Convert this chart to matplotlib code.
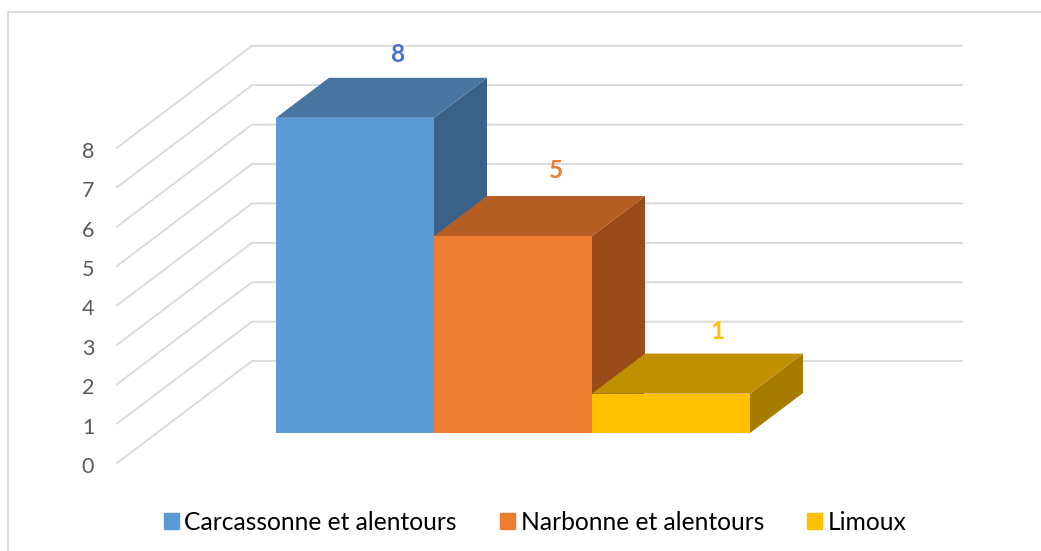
#!/usr/bin/env python3
"""Oblique 3D-look column chart, drawn with flat polygons."""

import matplotlib

matplotlib.use("Agg")
import matplotlib.patches as mpatches
import matplotlib.pyplot as plt

categories = ["Carcassonne et alentours", "Narbonne et alentours", "Limoux"]
values = [8, 5, 1]
ticks = [0, 1, 2, 3, 4, 5, 6, 7, 8]

FRONT = ["#5B9BD5", "#ED7D31", "#FFC000"]
TOP = ["#4875A0", "#B55E23", "#BF9000"]
SIDE = ["#3A6288", "#994C1A", "#A67C00"]
LABEL = ["#4472C4", "#ED7D31", "#FFC000"]
# label nudges in pixels from the back top edge of each column
LABEL_DX = [43, 43, 46]
LABEL_DY = [25, 28, 24]

WIDTH, HEIGHT = 1041, 551
X0, Y0 = 276, 433  # pixel of category 0 / value 0 on the bars' front plane
PX_CAT, PX_VAL = 158, 39.4

# depth offsets, in data units
BAR_DX, BAR_DY = 53 / PX_CAT, 40 / PX_VAL
WALL_LEFT = (117 - X0) / PX_CAT
WALL_FLOOR = (463 - Y0) / -PX_VAL  # axis foot sits below the bars' front plane
WALL_DX, WALL_DY = 135 / PX_CAT, 102 / PX_VAL
WALL_RIGHT = (962 - X0) / PX_CAT

plt.rcParams["font.family"] = ["Lato", "DejaVu Sans"]

fig = plt.figure(figsize=(WIDTH / 100, HEIGHT / 100), dpi=100)
ax = fig.add_axes([0, 0, 1, 1])
ax.set_xlim(-X0 / PX_CAT, (WIDTH - X0) / PX_CAT)
ax.set_ylim((Y0 - HEIGHT) / PX_VAL, Y0 / PX_VAL)
ax.axis("off")


def px(x, y):
    """Pixel position (top-left origin) to data coordinates."""
    return (x - X0) / PX_CAT, (Y0 - y) / PX_VAL


# chart frame: top and left edges only, the crop cuts the others
frame_x, frame_y = zip(px(8, HEIGHT), px(8, 12), px(WIDTH, 12))
ax.plot(frame_x, frame_y, color="#D9D9D9", lw=1.3, solid_joinstyle="miter", zorder=1)

# gridlines on the side wall and back wall
for t in ticks:
    y = WALL_FLOOR + t
    ax.plot(
        [WALL_LEFT, WALL_LEFT + WALL_DX, WALL_RIGHT],
        [y, y + WALL_DY, y + WALL_DY],
        color="#D9D9D9",
        lw=1.3,
        zorder=1,
    )
    ax.text(
        WALL_LEFT - 29 / PX_CAT,
        y - 2 / PX_VAL,
        str(t),
        ha="center",
        va="center_baseline",
        fontsize=15.5,
        color="#595959",
    )

# columns, left to right so each one overlaps the side of the previous
for i, v in enumerate(values):
    left, right = i, i + 1
    ax.add_patch(
        mpatches.Polygon(
            [(right, 0), (right + BAR_DX, BAR_DY), (right + BAR_DX, v + BAR_DY), (right, v)],
            facecolor=SIDE[i],
            edgecolor="none",
            zorder=2 + i,
        )
    )
    ax.add_patch(
        mpatches.Polygon(
            [(left, v), (right, v), (right + BAR_DX, v + BAR_DY), (left + BAR_DX, v + BAR_DY)],
            facecolor=TOP[i],
            edgecolor="none",
            zorder=2 + i,
        )
    )
    ax.add_patch(
        mpatches.Rectangle(
            (left, 0), 1, v, facecolor=FRONT[i], edgecolor="none", zorder=2 + i
        )
    )
    ax.text(
        i + 0.5 + LABEL_DX[i] / PX_CAT,
        v + BAR_DY + LABEL_DY[i] / PX_VAL,
        str(v),
        ha="center",
        va="center_baseline",
        fontsize=17.5,
        weight="bold",
        color=LABEL[i],
        zorder=10,
    )

handles = [mpatches.Patch(color=c, label=n) for c, n in zip(FRONT, categories)]
lx, ly = px(535, 522.5)
ax.legend(
    handles=handles,
    loc="center",
    bbox_to_anchor=(lx, ly),
    bbox_transform=ax.transData,
    ncol=3,
    frameon=False,
    fontsize=17.7,
    labelcolor="black",
    handlelength=0.62,
    handleheight=0.62,
    handletextpad=0.22,
    columnspacing=1.75,
    borderpad=0,
)

fig.savefig("out.png", dpi=100, facecolor="white")
plt.close(fig)
